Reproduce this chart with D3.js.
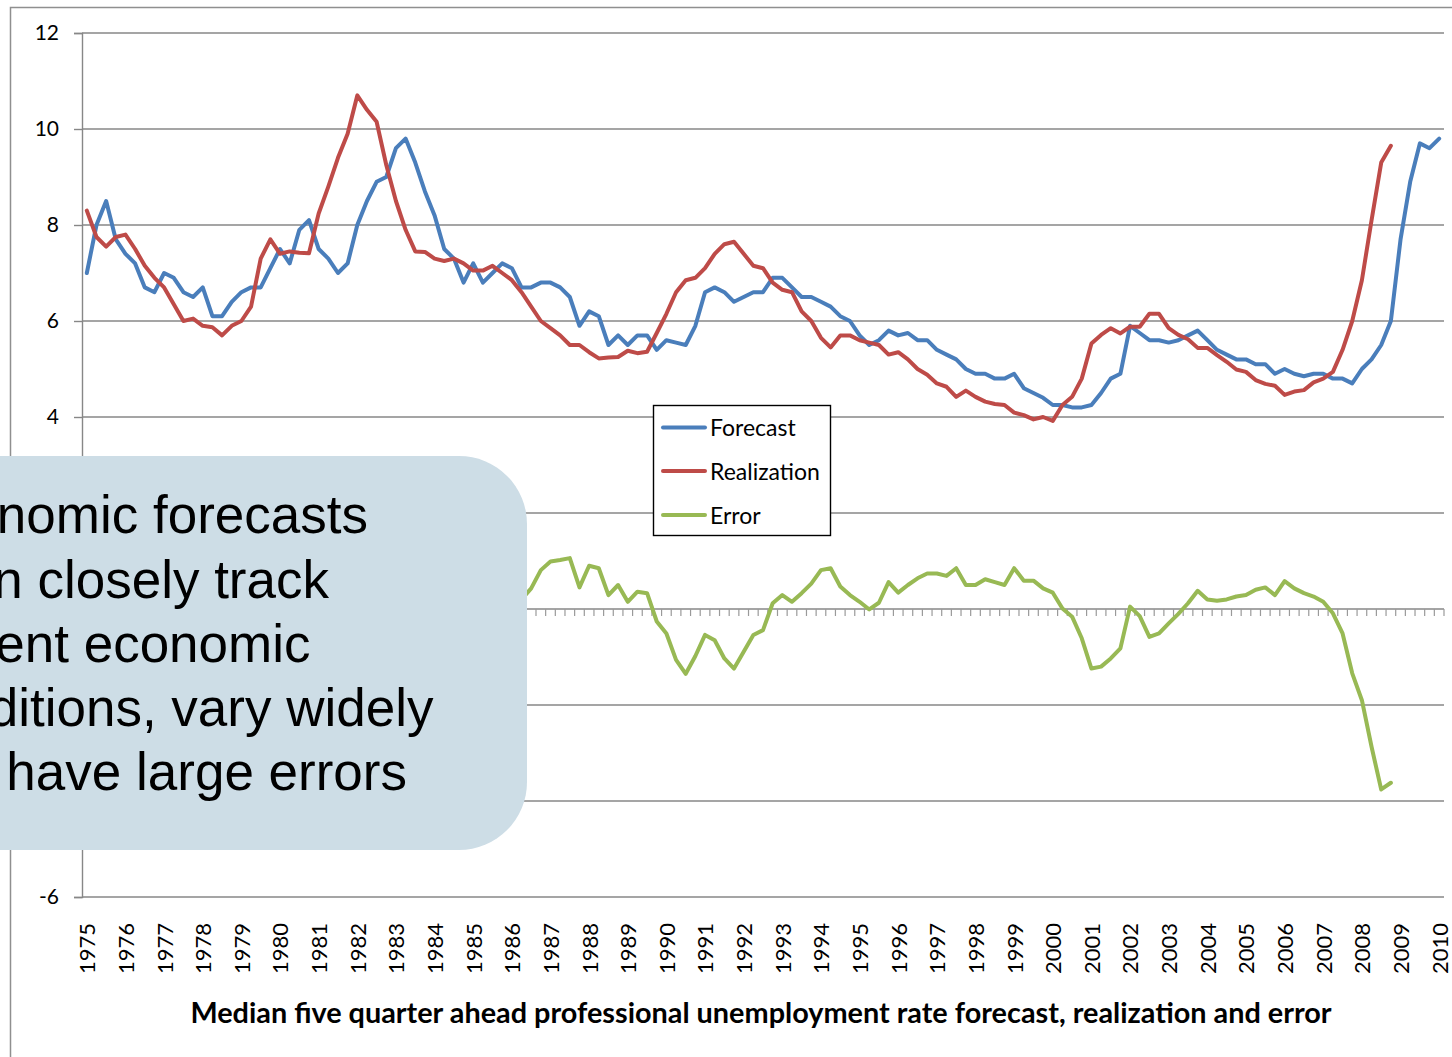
<!DOCTYPE html>
<html><head><meta charset="utf-8">
<script src="https://cdn.jsdelivr.net/npm/d3@7"></script>
<style>body{margin:0;background:#fff;} svg{display:block;}</style>
</head><body>
<script>
const years = [1975,1976,1977,1978,1979,1980,1981,1982,1983,1984,1985,1986,1987,1988,1989,1990,1991,1992,1993,1994,1995,1996,1997,1998,1999,2000,2001,2002,2003,2004,2005,2006,2007,2008,2009,2010];
const quarters = ["Q1","Q2","Q3","Q4"];
const forecast = [7.0,8.0,8.5,7.7,7.4,7.2,6.7,6.6,7.0,6.9,
6.6,6.5,6.7,6.1,6.1,6.4,6.6,6.7,6.7,7.1,
7.5,7.2,7.9,8.1,7.5,7.3,7.0,7.2,8.0,8.5,
8.9,9.0,9.6,9.8,9.3,8.7,8.2,7.5,7.3,6.8,
7.2,6.8,7.0,7.2,7.1,6.7,6.7,6.8,6.8,6.7,
6.5,5.9,6.2,6.1,5.5,5.7,5.5,5.7,5.7,5.4,
5.6,5.55,5.5,5.9,6.6,6.7,6.6,6.4,6.5,6.6,
6.6,6.9,6.9,6.7,6.5,6.5,6.4,6.3,6.1,6.0,
5.7,5.5,5.6,5.8,5.7,5.75,5.6,5.6,5.4,5.3,
5.2,5.0,4.9,4.9,4.8,4.8,4.9,4.6,4.5,4.4,
4.25,4.25,4.2,4.2,4.25,4.5,4.8,4.9,5.9,5.75,
5.6,5.6,5.55,5.6,5.7,5.8,5.6,5.4,5.3,5.2,
5.2,5.1,5.1,4.9,5.0,4.9,4.85,4.9,4.9,4.8,
4.8,4.7,5.0,5.2,5.5,6.0,7.7,8.9,9.7,9.6,
9.8];
const realization = [8.3,7.75,7.55,7.75,7.8,7.5,7.15,6.9,6.7,6.35,
6.0,6.05,5.9,5.87,5.7,5.9,6.0,6.3,7.3,7.7,
7.4,7.45,7.42,7.41,8.24,8.8,9.4,9.9,10.7,10.4,
10.15,9.25,8.5,7.9,7.45,7.44,7.3,7.25,7.3,7.2,
7.05,7.05,7.15,7.0,6.85,6.6,6.3,6.0,5.85,5.7,
5.5,5.5,5.35,5.22,5.24,5.25,5.38,5.33,5.36,5.75,
6.15,6.6,6.85,6.9,7.1,7.4,7.6,7.65,7.4,7.15,
7.1,6.8,6.65,6.6,6.2,6.0,5.65,5.45,5.7,5.7,
5.6,5.55,5.5,5.3,5.35,5.2,5.0,4.88,4.7,4.63,
4.42,4.55,4.42,4.32,4.27,4.25,4.09,4.04,3.95,4.0,
3.92,4.25,4.42,4.8,5.53,5.71,5.85,5.74,5.88,5.88,
6.15,6.15,5.85,5.71,5.62,5.44,5.44,5.29,5.15,4.99,
4.94,4.77,4.69,4.65,4.46,4.53,4.56,4.72,4.8,4.94,
5.4,6.0,6.85,8.1,9.3,9.65];
const error = [-1.3,0.25,0.95,-0.05,-0.4,-0.3,-0.45,-0.3,0.3,0.55,
0.6,0.45,0.8,0.23,0.4,0.5,0.6,0.4,-0.6,-0.6,
0.1,-0.25,0.48,0.69,-0.74,-1.5,-2.4,-2.7,-2.7,-1.9,
-1.25,-0.25,1.1,1.9,1.85,1.26,0.9,0.25,0.0,-0.4,
0.15,-0.25,-0.15,0.2,0.25,0.2,0.43,0.81,0.99,1.02,
1.06,0.45,0.9,0.85,0.29,0.5,0.15,0.36,0.33,-0.26,
-0.51,-1.06,-1.35,-0.98,-0.54,-0.65,-1.03,-1.24,-0.89,-0.54,
-0.44,0.12,0.29,0.15,0.33,0.53,0.81,0.85,0.47,0.29,
0.15,-0.01,0.13,0.56,0.34,0.5,0.64,0.74,0.74,0.69,
0.85,0.5,0.5,0.62,0.56,0.5,0.85,0.59,0.59,0.43,
0.34,0.01,-0.16,-0.61,-1.24,-1.2,-1.03,-0.82,0.05,-0.15,
-0.58,-0.51,-0.3,-0.1,0.12,0.38,0.2,0.17,0.2,0.26,
0.29,0.4,0.45,0.29,0.58,0.43,0.33,0.26,0.15,-0.09,
-0.51,-1.34,-1.9,-2.87,-3.76,-3.62];
const yTicks = [-6,-4,-2,0,2,4,6,8,10,12];
const yLabelled = [-6,4,6,8,10,12];   // labels not hidden by the callout box
const seriesNames = ["Forecast","Realization","Error"];
const seriesColors = ["#4A7EBB","#BE4B48","#98B954"];
const calloutLines = ["nomic forecasts","n closely track","ent economic","ditions, vary widely","have large errors"];
const titleText = "Median five quarter ahead professional unemployment rate forecast, realization and error";

const W = 1452, H = 1057;
const categories = [];
years.forEach(yr => quarters.forEach(q => { if (!(yr === 2010 && q !== "Q1")) categories.push(yr + q); }));

const svg = d3.select("body").append("svg").attr("width", W).attr("height", H);
const L = 82, R = 1444, T = 33, B = 897;
const x = d3.scalePoint().domain(categories).range([L, R]).padding(0.5);
const xb = d3.scaleBand().domain(categories).range([L, R]);
const y = d3.scaleLinear().domain([-6, 12]).range([B, T]);
const gridColor = "#878787";

// outer frame
svg.append("path").attr("d", `M10.5,${H} V7.5 H${W}`).attr("fill","none").attr("stroke","#8f8f8f").attr("stroke-width",1.5);

// gridlines
svg.append("g").selectAll("line").data(yTicks).join("line")
  .attr("x1", L).attr("x2", R).attr("y1", d => y(d)).attr("y2", d => y(d))
  .attr("stroke", gridColor).attr("stroke-width", 1.4);

// y axis (tick marks for every value, labels only where visible)
const yAxis = svg.append("g").attr("transform", `translate(${L},0)`)
  .call(d3.axisLeft(y).tickValues(yTicks).tickSize(8).tickPadding(15)
    .tickFormat(d => yLabelled.includes(d) ? String(d) : ""));
yAxis.select(".domain").attr("stroke", gridColor).attr("stroke-width", 1.4);
yAxis.selectAll(".tick line").attr("stroke", gridColor).attr("stroke-width", 1.4);
yAxis.selectAll("text").attr("font-family","Lato, 'Open Sans', sans-serif").attr("font-size", 21).attr("fill","#000");
yAxis.selectAll("text").filter(function(){ return this.textContent === ""; }).remove();

// zero-line category ticks
const tickXs = categories.map(c => xb(c)).concat([R]);
svg.append("g").selectAll("line").data(tickXs).join("line")
  .attr("x1", d => d).attr("x2", d => d).attr("y1", y(0)).attr("y2", y(0) + 7)
  .attr("stroke", "#9a9a9a").attr("stroke-width", 1.2);

// x labels
const xAxis = svg.append("g").attr("transform", `translate(0,${B})`)
  .call(d3.axisBottom(x).tickValues(categories.filter((c, i) => i % 4 === 0)).tickSize(0).tickFormat(c => c.slice(0, 4)));
xAxis.select(".domain").remove();
xAxis.selectAll("text")
  .attr("font-family","Lato, 'Open Sans', sans-serif").attr("font-size", 22).attr("fill","#000")
  .attr("transform","rotate(-90)").attr("x", -26).attr("y", 0).attr("dy","0.36em")
  .style("text-anchor","end");

// series
const line = d3.line().x((d, i) => x(categories[i])).y(d => y(d));
[forecast, realization, error].forEach((s, k) => {
  svg.append("path").datum(s).attr("d", line).attr("fill","none")
    .attr("stroke", seriesColors[k]).attr("stroke-width", 4)
    .attr("stroke-linejoin","round").attr("stroke-linecap","round");
});

// legend
const lg = svg.append("g");
lg.append("rect").attr("x", 653.5).attr("y", 405.5).attr("width", 177).attr("height", 130)
  .attr("fill","#fff").attr("stroke","#000").attr("stroke-width",1.4);
const legY = [427.5, 471, 515];
seriesNames.forEach((n, k) => {
  lg.append("line").attr("x1", 663).attr("x2", 705).attr("y1", legY[k]).attr("y2", legY[k])
    .attr("stroke", seriesColors[k]).attr("stroke-width", 4).attr("stroke-linecap","round");
  lg.append("text").attr("x", 710).attr("y", legY[k] + 8.5).text(n)
    .attr("font-family","Lato, 'Open Sans', sans-serif").attr("font-size", 23).attr("fill","#000");
});

// callout box
const bx0 = -120, bx1 = 527, by0 = 456, by1 = 850, r = 68;
svg.append("path")
  .attr("d", `M${bx0},${by0} H${bx1 - r} A${r},${r} 0 0 1 ${bx1},${by0 + r} V${by1 - r} A${r},${r} 0 0 1 ${bx1 - r},${by1} H${bx0} Z`)
  .attr("fill", "#CDDDE6");
const cEnds = [368, 329, 310.5, 433.5, 407];
const cBase = [533.3, 597.5, 661.8, 726.0, 790.3];
svg.append("g").selectAll("text").data(calloutLines).join("text")
  .attr("x", (d, i) => cEnds[i]).attr("y", (d, i) => cBase[i])
  .attr("text-anchor","end")
  .attr("font-family","'Liberation Sans', Arial, sans-serif").attr("font-size", 53).attr("fill","#000")
  .text(d => d);

// title
const title = svg.append("text").attr("x", 761).attr("y", 1023).attr("text-anchor","middle")
  .attr("font-family","Lato, 'Open Sans', sans-serif").attr("font-weight","bold").attr("font-size", 23)
  .attr("fill","#000").text(titleText);
const tw = title.node().getComputedTextLength();
if (tw > 0) title.attr("font-size", 23 * 1142 / tw);
</script>
</body></html>
